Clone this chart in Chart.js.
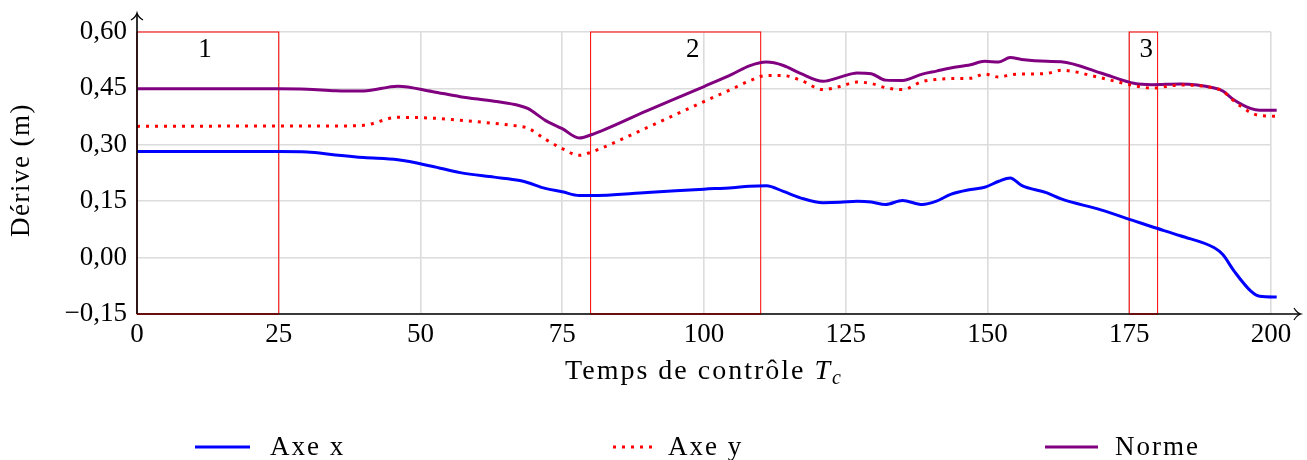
<!DOCTYPE html>
<html>
<head>
<meta charset="utf-8">
<script src="https://cdn.jsdelivr.net/npm/chart.js@4/dist/chart.umd.min.js"></script>
<style>
  html, body { margin: 0; padding: 0; background: #fff; }
  #wrap { width: 1307px; height: 460px; }
</style>
</head>
<body>
<div id="wrap"><canvas id="chart" width="1307" height="460"></canvas></div>
<script>
// données
const temps = [0, 25, 30, 35, 40, 46, 52, 57, 63, 67.5, 69, 72, 75, 78, 80, 90, 100, 105, 108, 111,
  114, 117, 121, 124, 127, 129.5, 132, 135, 138.5, 141, 143.5, 147, 149.5, 152, 154, 156, 160.5,
  163, 170, 176, 179, 184, 190, 191.5, 193.5, 196.5, 198, 201];
const axeX = [0.282, 0.282, 0.281, 0.273, 0.266, 0.260, 0.243, 0.226, 0.214, 0.205, 0.199, 0.184,
  0.175, 0.165, 0.165, 0.173, 0.182, 0.186, 0.190, 0.191, 0.176, 0.159, 0.146, 0.147, 0.150, 0.148,
  0.141, 0.152, 0.141, 0.150, 0.168, 0.181, 0.187, 0.203, 0.212, 0.192, 0.172, 0.156, 0.127, 0.097,
  0.082, 0.058, 0.026, 0.008, -0.036, -0.090, -0.103, -0.105];
const axeY = [0.349, 0.350, 0.350, 0.350, 0.352, 0.373, 0.371, 0.365, 0.357, 0.349, 0.344, 0.315,
  0.290, 0.272, 0.280, 0.346, 0.415, 0.449, 0.470, 0.484, 0.484, 0.472, 0.447, 0.455, 0.467, 0.463,
  0.452, 0.447, 0.468, 0.474, 0.476, 0.477, 0.488, 0.480, 0.486, 0.488, 0.490, 0.498, 0.478, 0.457,
  0.451, 0.459, 0.451, 0.443, 0.416, 0.385, 0.378, 0.376];
const norme = [0.449, 0.449, 0.448, 0.444, 0.443, 0.456, 0.442, 0.428, 0.416, 0.404, 0.396, 0.365,
  0.343, 0.318, 0.326, 0.391, 0.455, 0.488, 0.510, 0.520, 0.511, 0.490, 0.469, 0.480, 0.491, 0.489,
  0.472, 0.471, 0.488, 0.496, 0.504, 0.513, 0.522, 0.520, 0.532, 0.527, 0.522, 0.521, 0.491, 0.463,
  0.460, 0.462, 0.451, 0.443, 0.419, 0.396, 0.392, 0.392];

const xTicks = [0, 25, 50, 75, 100, 125, 150, 175, 200];
const yTicks = [-0.15, 0, 0.15, 0.30, 0.45, 0.60];

// zones encadrées
const zoneDebut = [0, 80, 175];
const zoneFin = [25, 110, 180];
const zoneNoms = ['1', '2', '3'];
const zoneNomX = [12, 98, 178];

const FONT = '"Liberation Serif", "Times New Roman", serif';

const toPts = (ys) => temps.map((t, i) => ({ x: t, y: ys[i] }));
const fmt = (v) => v.toFixed(2).replace('.', ',').replace('-', '\u2212');

// légende en bas, trois colonnes
const legende = [
  { label: 'Axe x', color: '#0000ff', dash: [], x0: 195, x1: 250, tx: 270 },
  { label: 'Axe y', color: '#ff0000', dash: [3, 6], x0: 613, x1: 656, tx: 668 },
  { label: 'Norme', color: '#800080', dash: [], x0: 1045, x1: 1098, tx: 1115 }
];

const decor = {
  id: 'decor',
  beforeDatasetsDraw(chart) {
    const { ctx, chartArea: a, scales: { x, y } } = chart;
    ctx.save();
    // zones rouges
    ctx.strokeStyle = '#ff0000';
    ctx.lineWidth = 1;
    zoneDebut.forEach((d, i) => {
      const l = x.getPixelForValue(d), r = x.getPixelForValue(zoneFin[i]);
      ctx.strokeRect(l, a.top, r - l, a.bottom - a.top);
    });
    ctx.fillStyle = '#000';
    ctx.font = '27px ' + FONT;
    ctx.textAlign = 'center';
    ctx.textBaseline = 'middle';
    zoneNoms.forEach((n, i) => {
      ctx.fillText(n, x.getPixelForValue(zoneNomX[i]), y.getPixelForValue(0.553));
    });
    ctx.restore();
  },
  afterDraw(chart) {
    const { ctx, chartArea: a } = chart;
    ctx.save();
    // axes avec flèches
    ctx.strokeStyle = '#000';
    ctx.lineWidth = 1.6;
    ctx.beginPath();
    ctx.moveTo(a.left, a.bottom);
    ctx.lineTo(a.right + 29, a.bottom);
    ctx.moveTo(a.left, a.bottom);
    ctx.lineTo(a.left, a.top - 18);
    ctx.stroke();
    ctx.lineWidth = 1.2;
    ctx.beginPath();
    ctx.moveTo(a.right + 23, a.bottom - 6);
    ctx.quadraticCurveTo(a.right + 26, a.bottom - 1, a.right + 30, a.bottom);
    ctx.quadraticCurveTo(a.right + 26, a.bottom + 1, a.right + 23, a.bottom + 6);
    ctx.moveTo(a.left - 6, a.top - 12);
    ctx.quadraticCurveTo(a.left - 1, a.top - 15, a.left, a.top - 19);
    ctx.quadraticCurveTo(a.left + 1, a.top - 15, a.left + 6, a.top - 12);
    ctx.stroke();
    // bas des zones sur l'axe
    ctx.strokeStyle = 'rgba(160,0,0,0.9)';
    ctx.lineWidth = 1;
    zoneDebut.forEach((d, i) => {
      const l = chart.scales.x.getPixelForValue(d), r = chart.scales.x.getPixelForValue(zoneFin[i]);
      ctx.beginPath();
      ctx.moveTo(l, a.bottom);
      ctx.lineTo(r, a.bottom);
      ctx.stroke();
    });

    ctx.fillStyle = '#000';

    // titre de l'axe y
    ctx.save();
    ctx.font = '27px ' + FONT;
    ctx.letterSpacing = '1.5px';
    ctx.textAlign = 'center';
    ctx.textBaseline = 'middle';
    ctx.translate(22, (a.top + a.bottom) / 2 - 3);
    ctx.rotate(-Math.PI / 2);
    ctx.fillText('Dérive (m)', 0, 0);
    ctx.restore();

    // titre de l'axe x : Temps de contrôle T_c
    ctx.textBaseline = 'alphabetic';
    ctx.textAlign = 'left';
    ctx.letterSpacing = '2px';
    const base = 379;
    ctx.font = '28px ' + FONT;
    const t1 = 'Temps de contrôle ';
    const w1 = ctx.measureText(t1).width;
    ctx.font = 'italic 28px ' + FONT;
    const w2 = ctx.measureText('T').width;
    ctx.font = 'italic 20px ' + FONT;
    const w3 = ctx.measureText('c').width;
    const cx = (a.left + a.right) / 2;
    const sx = cx - (w1 + w2 + w3) / 2;
    ctx.font = '28px ' + FONT;
    ctx.fillText(t1, sx, base);
    ctx.font = 'italic 28px ' + FONT;
    ctx.fillText('T', sx + w1, base);
    ctx.font = 'italic 20px ' + FONT;
    ctx.fillText('c', sx + w1 + w2, base + 5);

    // légende
    ctx.textBaseline = 'middle';
    ctx.font = '27px ' + FONT;
    ctx.letterSpacing = '2px';
    legende.forEach((it) => {
      ctx.strokeStyle = it.color;
      ctx.lineWidth = 3;
      ctx.setLineDash(it.dash);
      ctx.beginPath();
      ctx.moveTo(it.x0, 447);
      ctx.lineTo(it.x1, 447);
      ctx.stroke();
      ctx.setLineDash([]);
      ctx.fillText(it.label, it.tx, 448);
    });
    ctx.restore();
  }
};

const serie = (label, ys, color, dash) => ({
  label,
  data: toPts(ys),
  borderColor: color,
  backgroundColor: color,
  borderWidth: 3,
  borderDash: dash,
  pointRadius: 0,
  cubicInterpolationMode: 'monotone',
  fill: false,
  clip: false
});

new Chart(document.getElementById('chart'), {
  type: 'line',
  data: {
    datasets: [
      serie('Axe x', axeX, '#0000ff', []),
      serie('Axe y', axeY, '#ff0000', [3, 6]),
      serie('Norme', norme, '#800080', [])
    ]
  },
  options: {
    responsive: false,
    animation: false,
    devicePixelRatio: 1,
    layout: { padding: { left: 0, right: 36, top: 32, bottom: 66 } },
    plugins: { legend: { display: false }, tooltip: { enabled: false } },
    scales: {
      x: {
        type: 'linear',
        min: 0,
        max: 200,
        afterFit: (s) => { s.height = 80; },
        afterBuildTicks: (s) => { s.ticks = xTicks.map((v) => ({ value: v })); },
        grid: { color: '#dcdcdc', lineWidth: 1.6, drawTicks: false },
        border: { display: false },
        ticks: {
          color: '#000',
          padding: 5,
          maxRotation: 0,
          font: { family: FONT, size: 27 },
          callback: (v) => String(v)
        }
      },
      y: {
        min: -0.15,
        max: 0.60,
        afterFit: (s) => { s.width = 137; },
        afterBuildTicks: (s) => { s.ticks = yTicks.map((v) => ({ value: v })); },
        grid: { color: '#dcdcdc', lineWidth: 1.6, drawTicks: false },
        border: { display: false },
        ticks: {
          color: '#000',
          padding: 10,
          font: { family: FONT, size: 27 },
          callback: (v) => fmt(v)
        }
      }
    }
  },
  plugins: [decor]
});
</script>
</body>
</html>
